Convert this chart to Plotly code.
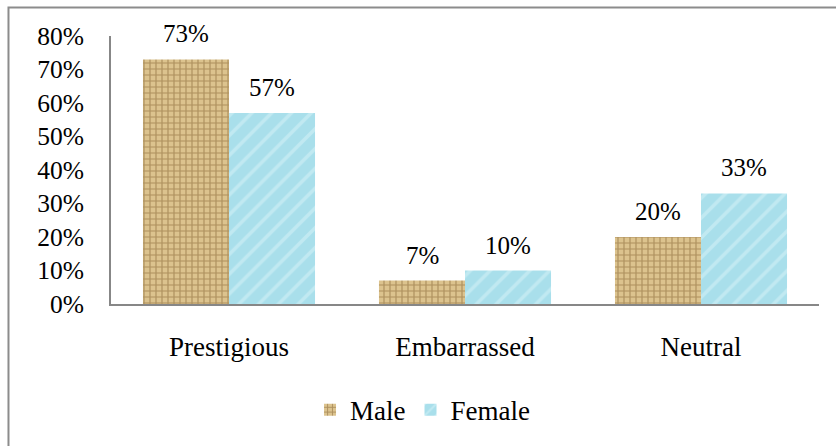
import plotly.graph_objects as go

# Survey responses by gender
categories = ["Prestigious", "Embarrassed", "Neutral"]
male = [0.73, 0.07, 0.20]
female = [0.57, 0.10, 0.33]
y_ticks = [0, 0.1, 0.2, 0.3, 0.4, 0.5, 0.6, 0.7, 0.8]

FONT = "Liberation Serif, Times New Roman, serif"
AXIS_GREY = "#878787"

fig = go.Figure()

fig.add_trace(go.Bar(
    name="Male", x=categories, y=male,
    marker=dict(
        color="#d2b47c",
        line=dict(width=0),
        pattern=dict(shape="+", fgcolor="#7d5c2c", bgcolor="#dcc38e",
                     size=6, solidity=0.35),
    ),
))
fig.add_trace(go.Bar(
    name="Female", x=categories, y=female,
    marker=dict(
        color="#b2e3ee",
        line=dict(width=0),
        pattern=dict(shape="/", fgcolor="#d9f3f8", bgcolor="#a9dfeb",
                     size=14, solidity=0.25),
    ),
))

# value labels above each bar
for vals, shift in ((male, -43), (female, 43)):
    for cat, v in zip(categories, vals):
        fig.add_annotation(
            x=cat, y=v, xref="x", yref="y",
            text=f"{round(v * 100)}%", showarrow=False,
            xshift=shift, yshift=10, yanchor="bottom",
            font=dict(family=FONT, size=25, color="black"),
        )

# outer chart border
fig.add_shape(
    type="rect", xref="paper", yref="paper",
    x0=-0.1448, x1=1.2, y0=-0.7, y1=1.106,
    line=dict(color="#8c8c8c", width=2), fillcolor="rgba(0,0,0,0)",
    layer="below",
)

fig.update_layout(
    width=836, height=446,
    margin=dict(l=111, r=17, t=36, b=142),
    paper_bgcolor="white", plot_bgcolor="white",
    barmode="group", bargap=0.271, bargroupgap=0,
    font=dict(family=FONT, size=25, color="black"),
    showlegend=True,
    legend=dict(
        orientation="h", x=0.44, xanchor="center",
        y=-0.396, yanchor="middle",
        font=dict(family=FONT, size=27, color="black"),
        itemwidth=30, tracegroupgap=0,
    ),
    xaxis=dict(
        showline=True, linecolor=AXIS_GREY, linewidth=2,
        showgrid=False, ticks="", ticklabelstandoff=18,
        tickfont=dict(family=FONT, size=27, color="black"),
    ),
    yaxis=dict(
        range=[0, 0.8], tickvals=y_ticks, tickformat=".0%",
        showline=True, linecolor=AXIS_GREY, linewidth=2,
        showgrid=False, zeroline=False, ticks="", ticklabelstandoff=20,
        tickfont=dict(family=FONT, size=25.5, color="black"),
    ),
)

fig.write_html("out.html")
